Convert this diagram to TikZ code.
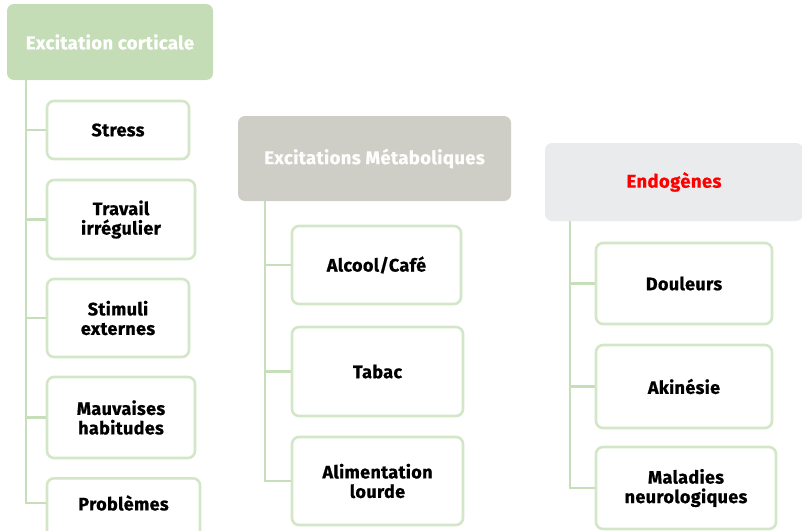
\documentclass[tikz,border=0pt]{standalone}
\usepackage{fontspec}
\setmainfont{Fira Sans}[BoldFeatures={FakeBold=0.8, LetterSpace=2}]
\definecolor{headgreen}{HTML}{C5DDB7}
\definecolor{headgray}{HTML}{CFCEC6}
\definecolor{headlight}{HTML}{E9EBEC}
\definecolor{treeline}{HTML}{C6DEB9}
\definecolor{boxline}{HTML}{D3E6C8}
\definecolor{headred}{HTML}{FF0000}
\begin{document}
\begin{tikzpicture}[x=1pt,y=-1pt,
  header/.style={rounded corners=7pt, inner sep=0pt, align=center,
    font=\fontsize{18.5}{20}\selectfont\bfseries},
  leaf/.style={draw=boxline, line width=2.6pt, fill=white, rounded corners=7pt,
    inner sep=0pt, align=center, font=\fontsize{18}{19.5}\selectfont\bfseries},
  leaftext/.style={inner sep=0pt, align=center, font=\fontsize{18}{19.5}\selectfont\bfseries},
  tree/.style={draw=treeline, line width=2.6pt}]
\useasboundingbox (0,0) rectangle (802,530);
\clip (0,0) rectangle (802,530);

% column headers
\node[header, fill=headgreen, text=white, minimum width=206pt, minimum height=76pt]
  (h1) at (110,42) {Excitation corticale};
\node[header, fill=headgray, text=white!96!headgray, minimum width=273pt, minimum height=85pt]
  (h2) at (374.5,158.5) {Excitations Métaboliques};
\node[header, fill=headlight, text=headred, minimum width=258pt, minimum height=78pt]
  (h3) at (674,182) {Endogènes};

% trunk tops of the three trees
\coordinate (t1) at (26,80);
\coordinate (t2) at (265,201);
\coordinate (t3) at (570,221);

% first column
\node[leaf, minimum width=142pt, minimum height=58pt] (a1) at (118,130) {Stress};
\node[leaf, minimum width=148pt, minimum height=79pt] (a2) at (121,219.5) {Travail\\irrégulier};
\node[leaf, minimum width=142pt, minimum height=78pt] (a3) at (118,318) {Stimuli\\externes};
\node[leaf, minimum width=148pt, minimum height=81pt] (a4) at (121,417.5) {Mauvaises\\habitudes};
\node[leaf, minimum width=153pt, minimum height=80pt, anchor=north] (a5) at (123.5,477) {};
\node[leaftext] (a5t) at (123.5,503) {Problèmes};

% second column
\node[leaf, minimum width=169pt, minimum height=78pt] (b1) at (376.5,265) {Alcool/Café};
\node[leaf, minimum width=171pt, minimum height=89pt] (b2) at (377.5,371.5) {Tabac};
\node[leaf, minimum width=171pt, minimum height=88pt] (b3) at (377.5,481) {Alimentation\\lourde};

% third column
\node[leaf, minimum width=176pt, minimum height=81pt] (c1) at (684,283.5) {Douleurs};
\node[leaf, minimum width=176pt, minimum height=83pt] (c2) at (684,386.5) {Akinésie};
\node[leaf, minimum width=180pt, minimum height=82pt] (c3) at (686,488) {Maladies\\neurologiques};

% tree connectors
\foreach \n in {a1,a2,a3,a4} \draw[tree] (t1) |- (\n.west);
\draw[tree] (t1) |- (a5.west |- a5t);
\foreach \n in {b1,b2,b3} \draw[tree] (t2) |- (\n.west);
\foreach \n in {c1,c2,c3} \draw[tree] (t3) |- (\n.west);
\end{tikzpicture}
\end{document}
